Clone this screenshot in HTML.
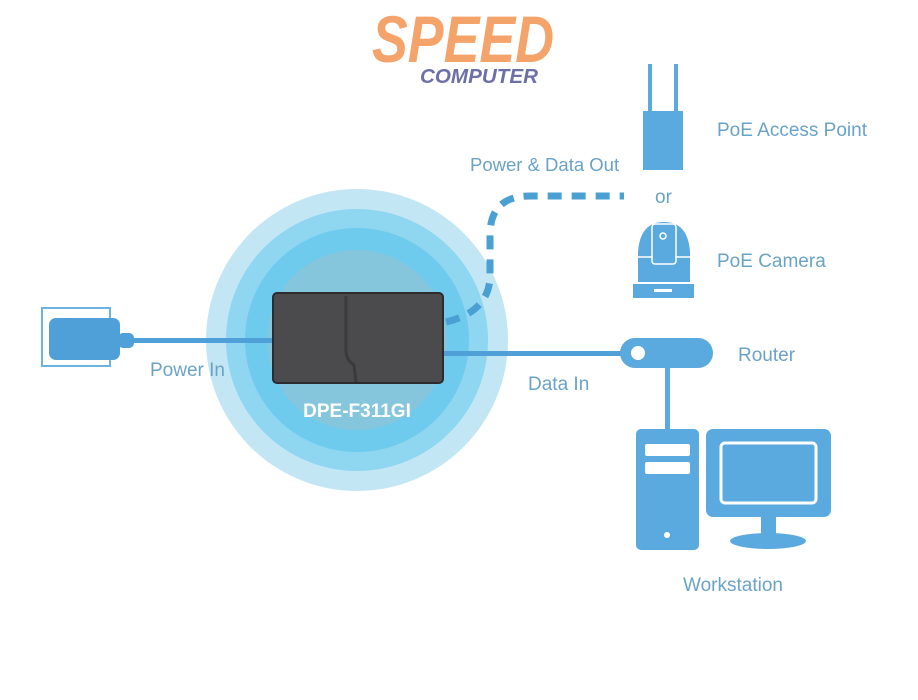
<!DOCTYPE html>
<html><head><meta charset="utf-8"><style>
html,body{margin:0;padding:0;background:#fff;width:918px;height:700px;overflow:hidden}
svg{display:block}
text{font-family:"Liberation Sans",sans-serif}
</style></head><body>
<svg width="918" height="700" viewBox="0 0 918 700" xmlns="http://www.w3.org/2000/svg">
<!-- Logo -->
<text x="372" y="62" font-size="66" font-weight="bold" font-style="italic" fill="#f4a46a" textLength="182" lengthAdjust="spacingAndGlyphs">SPEED</text>
<text x="420" y="83" font-size="20" font-weight="bold" font-style="italic" fill="#6f6fa8" textLength="118" lengthAdjust="spacingAndGlyphs">COMPUTER</text>

<!-- circles -->
<circle cx="357" cy="340" r="151" fill="#c3e6f4"/>
<circle cx="357" cy="340" r="131" fill="#8fd6f0"/>
<circle cx="357" cy="340" r="112" fill="#6ecbee"/>
<circle cx="357" cy="340" r="90" fill="#86c6dc"/>

<!-- power line -->
<rect x="42" y="308" width="68" height="58" fill="none" stroke="#6cb3e0" stroke-width="2"/>
<rect x="49" y="318" width="71" height="42" rx="7" fill="#4f9fd8"/>
<rect x="118" y="333" width="16" height="15" rx="5" fill="#4f9fd8"/>
<rect x="130" y="338" width="145" height="5" fill="#4f9fd8"/>
<text x="150" y="376" font-size="19" fill="#6aa3c8">Power In</text>

<!-- data line -->
<rect x="443" y="351" width="185" height="5" fill="#4f9fd8"/>
<text x="528" y="390" font-size="19" fill="#6aa3c8">Data In</text>

<!-- dashed -->
<path d="M446 322 Q488 312 490 278 L490 235 Q490 196 530 196 L624 196" fill="none" stroke="#4a9fd3" stroke-width="7" stroke-dasharray="14 10"/>
<text x="470" y="171" font-size="18.5" fill="#6aa3c8">Power &amp; Data Out</text>

<!-- device -->
<rect x="273" y="293" width="170" height="90" rx="4" fill="#4b4b4e" stroke="#2c2c2e" stroke-width="2"/>
<path d="M346 296 L346 350 Q346 360 354 365 L356 382" stroke="#3a3a3c" stroke-width="3" fill="none"/>
<text x="357" y="417" font-size="19" font-weight="bold" fill="#ffffff" text-anchor="middle">DPE-F311GI</text>

<!-- AP -->
<rect x="648" y="64" width="4" height="48" fill="#5aa9df"/>
<rect x="674" y="64" width="4" height="48" fill="#5aa9df"/>
<rect x="643" y="111" width="40" height="59" fill="#5aa9df"/>
<text x="717" y="136" font-size="19" fill="#6aa3c8">PoE Access Point</text>
<text x="655" y="203" font-size="19" fill="#6aa3c8">or</text>

<!-- camera -->
<path d="M638 282 L638 252 Q640 222 664 222 Q688 222 690 252 L690 282 Z" fill="#5aa9df"/>
<rect x="652" y="224" width="24" height="40" rx="3" fill="none" stroke="#fff" stroke-width="1.5"/>
<circle cx="663" cy="236" r="3" fill="none" stroke="#fff" stroke-width="1.5"/>
<line x1="638" y1="257" x2="652" y2="257" stroke="#fff" stroke-width="1.5"/>
<line x1="676" y1="257" x2="690" y2="257" stroke="#fff" stroke-width="1.5"/>
<rect x="633" y="284" width="61" height="14" fill="#5aa9df"/>
<rect x="654" y="289" width="18" height="3" fill="#fff"/>
<text x="717" y="267" font-size="19" fill="#6aa3c8">PoE Camera</text>

<!-- router -->
<rect x="620" y="338" width="93" height="30" rx="15" fill="#5aa9df"/>
<circle cx="638" cy="353" r="7" fill="#fff"/>
<text x="738" y="361" font-size="19" fill="#6aa3c8">Router</text>
<rect x="665" y="366" width="5" height="66" fill="#5aa9df"/>

<!-- workstation -->
<rect x="636" y="429" width="63" height="121" rx="5" fill="#5aa9df"/>
<rect x="645" y="444" width="45" height="12" rx="2" fill="#fff"/>
<rect x="645" y="462" width="45" height="12" rx="2" fill="#fff"/>
<circle cx="667" cy="535" r="3" fill="#fff"/>
<rect x="706" y="429" width="125" height="88" rx="7" fill="#5aa9df"/>
<rect x="721" y="443" width="95" height="60" rx="4" fill="#5aa9df" stroke="#fff" stroke-width="3"/>
<rect x="761" y="515" width="15" height="22" fill="#5aa9df"/>
<ellipse cx="768" cy="541" rx="38" ry="8" fill="#5aa9df"/>
<text x="683" y="591" font-size="19" fill="#6aa3c8">Workstation</text>
</svg>
</body></html>
